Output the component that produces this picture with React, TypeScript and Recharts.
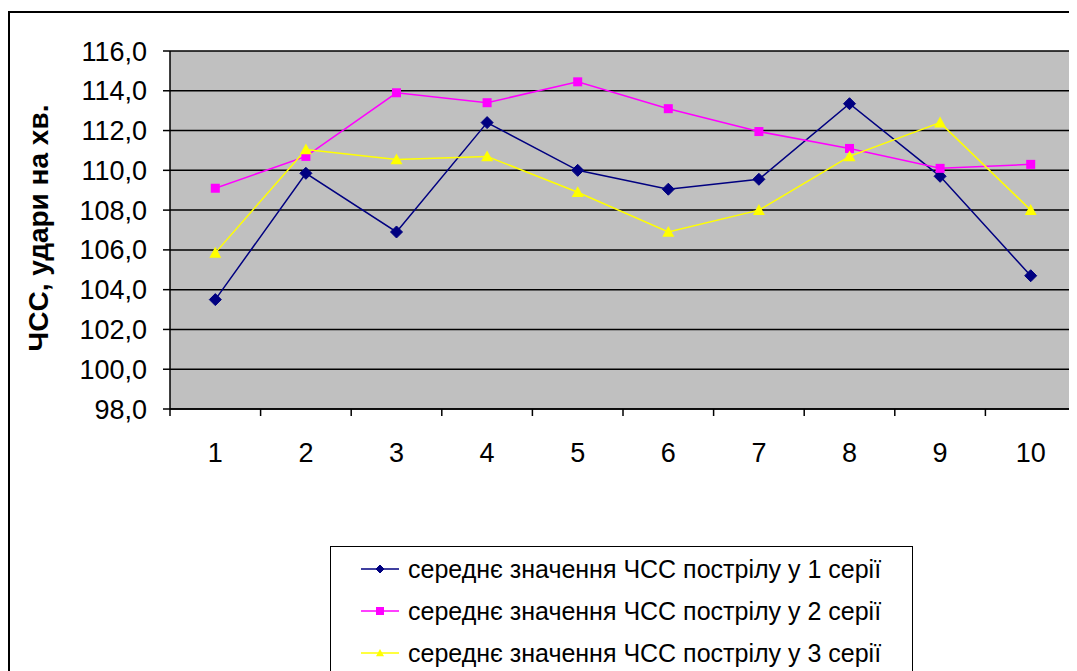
import React from 'react';
import { LineChart, Line, XAxis, YAxis, CartesianGrid } from 'recharts';

const categories = ['1', '2', '3', '4', '5', '6', '7', '8', '9', '10'];
const series1 = [103.5, 109.85, 106.9, 112.4, 110.0, 109.05, 109.55, 113.35, 109.7, 104.7];
const series2 = [109.1, 110.7, 113.9, 113.4, 114.45, 113.1, 111.95, 111.1, 110.1, 110.3];
const series3 = [105.85, 111.05, 110.55, 110.7, 108.9, 106.9, 108.0, 110.7, 112.4, 108.0];
const yTicks = [98, 100, 102, 104, 106, 108, 110, 112, 114, 116];

const seriesNames = [
  'середнє значення ЧСС пострілу у 1 серії',
  'середнє значення ЧСС пострілу у 2 серії',
  'середнє значення ЧСС пострілу у 3 серії',
];

const data = categories.map((c, i) => ({ cat: c, s1: series1[i], s2: series2[i], s3: series3[i] }));

const FONT = '"Liberation Sans", Arial, sans-serif';
const NAVY = '#000080';
const MAGENTA = '#FF00FF';
const YELLOW = '#FFFF00';

const TICK_SIZE = 7;
const TICK_MARGIN = 27;

const Diamond = (props: any) => {
  const { cx, cy, fill, size = 6 } = props;
  if (cx == null || cy == null) return null;
  return <polygon points={`${cx},${cy - size} ${cx + size},${cy} ${cx},${cy + size} ${cx - size},${cy}`} fill={fill} stroke={fill} strokeWidth={1} />;
};

const Square = (props: any) => {
  const { cx, cy, fill, size = 4.5 } = props;
  if (cx == null || cy == null) return null;
  return <rect x={cx - size} y={cy - size} width={size * 2} height={size * 2} fill={fill} />;
};

const Triangle = (props: any) => {
  const { cx, cy, fill, size = 6 } = props;
  if (cx == null || cy == null) return null;
  return <polygon points={`${cx},${cy - size} ${cx + size},${cy + size * 0.8} ${cx - size},${cy + size * 0.8}`} fill={fill} />;
};

const markers = [
  { color: NAVY, Shape: Diamond },
  { color: MAGENTA, Shape: Square },
  { color: YELLOW, Shape: Triangle },
];

const yFormat = (v: number) => v.toFixed(1).replace('.', ',');

// category label + Excel style tick marks on the category boundaries
const CatTick = (props: any) => {
  const { x, y, payload, index, visibleTicksCount } = props;
  const half = payload?.offset ?? 45.3;
  const axisY = y - TICK_SIZE - TICK_MARGIN;
  const last = index === (visibleTicksCount ?? categories.length) - 1;
  return (
    <g>
      <line x1={x - half} y1={axisY} x2={x - half} y2={axisY + TICK_SIZE} stroke="#000" strokeWidth={1.5} />
      {last && <line x1={x + half} y1={axisY} x2={x + half} y2={axisY + TICK_SIZE} stroke="#000" strokeWidth={1.5} />}
      <text x={x} y={y} dy="0.71em" textAnchor="middle" style={{ fill: '#000', fontSize: 27, fontFamily: FONT }}>
        {payload.value}
      </text>
    </g>
  );
};

const YTitle = (props: any) => {
  const { viewBox } = props;
  const x = viewBox.x + 30;
  const y = viewBox.y + viewBox.height / 2 - 2;
  return (
    <text x={x} y={y} transform={`rotate(-90, ${x}, ${y})`} textAnchor="middle" dominantBaseline="central"
      style={{ fontFamily: FONT, fontSize: 28, fontWeight: 700, fill: '#000' }}>
      ЧСС, удари на хв.
    </text>
  );
};

export default function App() {
  return (
    <div style={{ position: 'relative', width: 1069, height: 660, marginTop: 3, fontFamily: FONT }}>
      <div style={{ position: 'absolute', left: 0, top: 0, right: 0, bottom: 0, borderLeft: '2px solid #000', borderTop: '2px solid #000' }} />
      <div style={{ position: 'absolute', left: 0, top: 0 }}>
        <LineChart width={1069} height={660} data={data} margin={{ top: 40, right: 1, left: 0, bottom: 202 }}>
          <CartesianGrid vertical={false} fill="#C0C0C0" stroke="#000" strokeWidth={1.5} strokeOpacity={1} />
          <XAxis dataKey="cat" scale="band" axisLine={{ stroke: '#000', strokeWidth: 1.5 }} tickLine={false}
            tickSize={TICK_SIZE} tickMargin={TICK_MARGIN} height={60} interval={0} tick={<CatTick />} />
          <YAxis domain={[98, 116]} ticks={yTicks} tickFormatter={yFormat} width={162}
            tickSize={TICK_SIZE} tickMargin={16} stroke="#000" strokeWidth={1.5} interval={0}
            tick={{ fill: '#000', fontSize: 27, fontFamily: FONT }} label={<YTitle />} />
          {[series1, series2, series3].map((_, i) => {
            const { color, Shape } = markers[i];
            return (
              <Line key={i} type="linear" dataKey={`s${i + 1}`} name={seriesNames[i]}
                stroke={color} strokeWidth={1.5} isAnimationActive={false}
                dot={(p: any) => <Shape key={p.index} cx={p.cx} cy={p.cy} fill={color} />} activeDot={false} />
            );
          })}
        </LineChart>
      </div>
      {/* plot area right frame */}
      <div style={{ position: 'absolute', left: 1067, top: 40, width: 1.5, height: 358, background: '#808080' }} />
      <div style={{ position: 'absolute', left: 322, top: 535, width: 581, height: 125, borderLeft: '1.5px solid #000', borderTop: '1.5px solid #000', borderRight: '1.5px solid #000' }}>
        {seriesNames.map((name, i) => {
          const { color, Shape } = markers[i];
          return (
            <div key={name} style={{ position: 'absolute', left: 30, top: 8 + i * 42, height: 28, display: 'flex', alignItems: 'center' }}>
              <svg width={38} height={16} style={{ marginRight: 9 }}>
                <line x1={0} y1={8} x2={38} y2={8} stroke={color} strokeWidth={1.5} />
                <Shape cx={19} cy={8} fill={color} size={4} />
              </svg>
              <span style={{ fontSize: 25, color: '#000', whiteSpace: 'nowrap' }}>{name}</span>
            </div>
          );
        })}
      </div>
    </div>
  );
}
